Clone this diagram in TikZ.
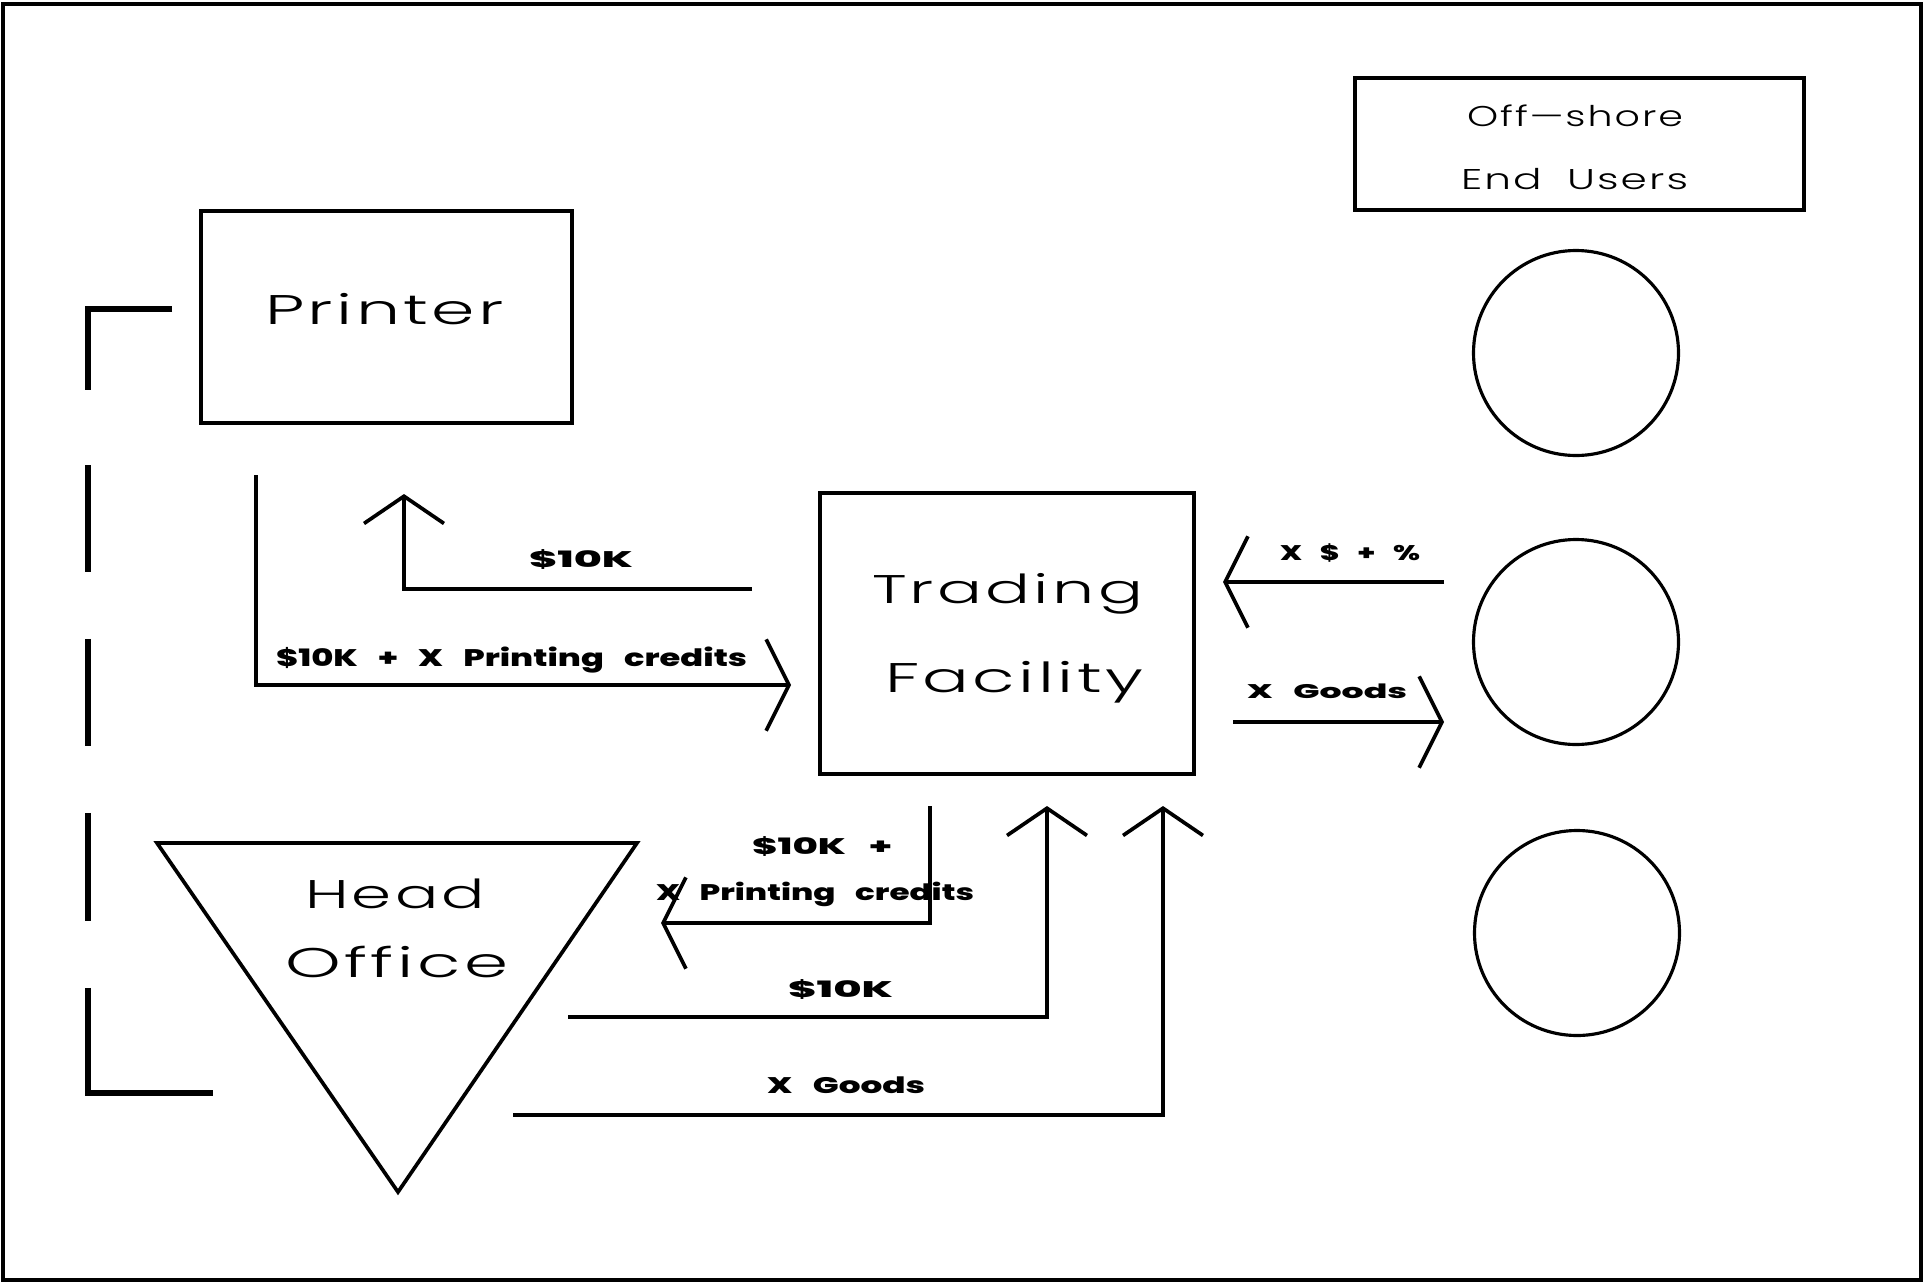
\documentclass[tikz,border=0pt]{standalone}
\usepackage{fontspec}
\usepackage{graphicx}
\usetikzlibrary{arrows.meta}
\newfontfamily\thinfont{Poppins}[UprightFont={* Light},LetterSpace=5]
\newfontfamily\lblfont{Poppins}[UprightFont={* ExtraBold}]
\newlength\px
\setlength\px{0.02cm}
\newcommand\wgap{\hspace{0.6em}}
\newcommand\fitT[3]{\resizebox{#1\px}{#2\px}{\raisebox{0pt}[\fontcharht\font`H][0pt]{#3}}}
\tikzset{
  hbarb/.tip={Straight Barb[length=13pt,width=52pt]},
  vbarb/.tip={Straight Barb[length=15.5pt,width=45.5pt]}
}
\begin{document}
\begin{tikzpicture}[x=0.02cm,y=-0.02cm,
  box/.style={draw,line width=1.8pt,inner sep=0pt,outer sep=0pt},
  tx/.style={inner sep=0pt,outer sep=0pt,anchor=base west},
  conn/.style={line width=2.1pt,line join=miter}]
\useasboundingbox (0,0) rectangle (1924,1285);
\draw[line width=2pt] (3,4) rectangle (1921,1280);

% boxes
\node[box,minimum width=371\px,minimum height=212\px] (printer) at (386.5,317) {};
\node[box,minimum width=374\px,minimum height=281\px] (tf) at (1007,633.5) {};
\node[box,minimum width=449\px,minimum height=132\px] (offshore) at (1579.5,144) {};
\node[box,circle,minimum size=205\px] (u1) at (1576,353) {};
\node[box,circle,minimum size=205\px] (u2) at (1576,642) {};
\node[box,circle,minimum size=205\px] (u3) at (1577,933) {};
\coordinate (hoA) at (157,843);
\coordinate (hoB) at (637,843);
\coordinate (hoC) at (398,1192);
\draw[line width=2.1pt,line join=miter] (hoA) -- (hoB) -- (hoC) -- cycle;

% node texts
\node[tx] (tPrinter) at (265,324) {\thinfont\fitT{239}{29}{Printer}};
\node[tx] (tTrading) at (872,603) {\thinfont\fitT{271}{28}{Trading}};
\node[tx] (tFacility) at (885,692) {\thinfont\fitT{258}{29}{Facility}};
\node[tx] (tHead) at (305,908) {\thinfont\fitT{180}{28}{Head}};
\node[tx] (tOffice) at (285,977) {\thinfont\fitT{223}{29}{Office}};
\node[tx] (tOff1) at (1467,126) {\thinfont\fitT{216}{20}{Off—shore}};
\node[tx] (tOff2) at (1461,189) {\thinfont\fitT{227}{20}{End\wgap Users}};

% connector end points
\coordinate (a1s) at (752,589);  \coordinate (a1e) at (404,494);
\coordinate (a2s) at (256,475);  \coordinate (a2e) at (791,685);
\coordinate (a3s) at (1444,582); \coordinate (a3e) at (1223,582);
\coordinate (a4s) at (1233,722); \coordinate (a4e) at (1444,722);
\coordinate (a5s) at (930,806);  \coordinate (a5e) at (661,923);
\coordinate (a6s) at (568,1017); \coordinate (a6e) at (1047,806);
\coordinate (a7s) at (513,1115); \coordinate (a7e) at (1163,806);
\coordinate (bkS) at (172,309);  \coordinate (bkE) at (213,1093);

\draw[conn,-vbarb] (a1s) -| (a1e);
\draw[conn,-hbarb] (a2s) |- (a2e);
\draw[conn,-hbarb] (a3s) -- (a3e);
\draw[conn,-hbarb] (a4s) -- (a4e);
\draw[conn,-hbarb] (a5s) |- (a5e);
\draw[conn,-vbarb] (a6s) -| (a6e);
\draw[conn,-vbarb] (a7s) -| (a7e);
\draw[line width=2.9pt,line join=miter,
  dash pattern=on 93.9pt off 42.7pt on 60.9pt off 38.1pt on 60.9pt off 38.1pt on 61.5pt off 38.1pt on 140pt off 50pt]
  (bkS) -| (88,1093) -- (bkE);

% labels
\node[tx] (l1) at (529,567) {\lblfont\fitT{104}{16}{\$10K}};
\node[tx] (l2) at (276,666) {\lblfont\fitT{471}{17}{\$10K\wgap+\wgap X\wgap Printing\wgap credits}};
\node[tx] (l3) at (1280,560) {\lblfont\fitT{140}{15}{X\wgap\$\wgap+\wgap\%}};
\node[tx] (l4) at (1247,698) {\lblfont\fitT{160}{14}{X\wgap Goods}};
\node[tx] (l5) at (752,854) {\lblfont\fitT{140}{16}{\$10K\wgap+}};
\node[tx] (l6) at (656,900) {\lblfont\fitT{318}{16}{X\wgap Printing\wgap credits}};
\node[tx] (l7) at (788,997) {\lblfont\fitT{105}{16}{\$10K}};
\node[tx] (l8) at (767,1093) {\lblfont\fitT{158}{16}{X\wgap Goods}};
\end{tikzpicture}
\end{document}
